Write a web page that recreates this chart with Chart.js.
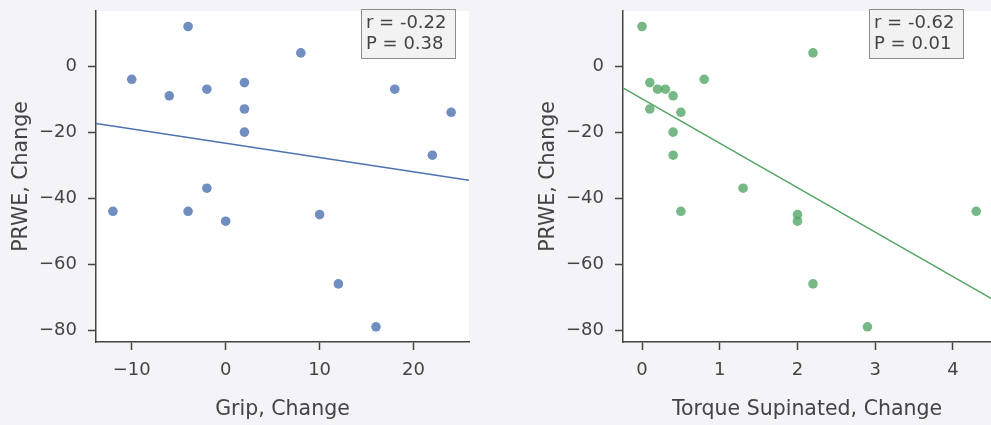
<!DOCTYPE html>
<html>
<head>
<meta charset="utf-8">
<script src="https://cdn.jsdelivr.net/npm/chart.js@4/dist/chart.umd.min.js"></script>
<style>
  html, body { margin: 0; padding: 0; background: #f3f3f8; overflow: hidden; }
  .panel { position: absolute; top: 0; height: 425px; }
  #left-panel  { left: 0;     width: 480px; }
  #right-panel { left: 510px; width: 481px; }
</style>
</head>
<body>
<div class="panel" id="left-panel"><canvas id="grip-chart" width="480" height="425"></canvas></div>
<div class="panel" id="right-panel"><canvas id="torque-chart" width="481" height="425"></canvas></div>
<script>
// PRWE change (y) shared by both panels, one per patient
const gripChange   = [-4, -10, -6, -2, 2, 2, 2, 8, 18, 24, 22, -12, -4, -2, 0, 10, 12, 16];
const gripPrwe     = [12, -4, -9, -7, -5, -13, -20, 4, -7, -14, -27, -44, -44, -37, -47, -45, -66, -79];
const torqueChange = [0, 0.1, 0.1, 0.2, 0.3, 0.4, 0.5, 0.4, 0.4, 0.8, 2.2, 1.3, 0.5, 2.0, 2.0, 2.2, 2.9, 4.3];
const torquePrwe   = [12, -5, -13, -7, -7, -9, -14, -20, -27, -4, 4, -37, -44, -45, -47, -66, -79, -44];

// regression line ends, read at the axis limits
const gripFitX   = [-13.8, 25.9];
const gripFitY   = [-17.4, -34.6];
const torqueFitX = [-0.245, 4.49];
const torqueFitY = [-6.6, -70.4];

const yTicks          = [-80, -60, -40, -20, 0];
const gripTicks       = [-10, 0, 10, 20];
const torqueTicks     = [0, 1, 2, 3, 4];
const gripStats       = ['r = -0.22', 'P = 0.38'];
const torqueStats     = ['r = -0.62', 'P = 0.01'];

const yRange = [-83.6, 16.7];
const ink    = '#444444';
const font   = 'DejaVu Sans';

function fmt(v) {
  return v < 0 ? '\u2212' + Math.abs(v) : String(v);
}

function noPad(s) {
  s.paddingTop = 0;
  s.paddingBottom = 0;
  s.paddingLeft = 0;
  s.paddingRight = 0;
}

const whiteArea = {
  id: 'whiteArea',
  beforeDraw(chart) {
    const {ctx, chartArea: a} = chart;
    ctx.save();
    ctx.fillStyle = '#ffffff';
    ctx.fillRect(a.left, a.top, a.right - a.left, a.bottom - a.top);
    ctx.restore();
  }
};

const statsBox = {
  id: 'statsBox',
  afterDraw(chart, args, opts) {
    const {ctx, chartArea: a} = chart;
    const w = 95, h = 50;
    const x = a.right - opts.gap - w;
    const y = a.top - 2;
    ctx.save();
    ctx.fillStyle = '#f2f2f2';
    ctx.fillRect(x, y, w, h);
    ctx.strokeStyle = '#8c8c8c';
    ctx.lineWidth = 1;
    ctx.strokeRect(x + 0.5, y + 0.5, w - 1, h - 1);
    ctx.fillStyle = ink;
    ctx.font = '18px "' + font + '"';
    ctx.textBaseline = 'middle';
    opts.lines.forEach((t, i) => ctx.fillText(t, x + 5, y + 14 + i * 21));
    ctx.restore();
  }
};

function makeChart(id, cfg) {
  const pts = cfg.xs.map((x, i) => ({ x, y: cfg.ys[i] }));
  const fit = cfg.fitX.map((x, i) => ({ x, y: cfg.fitY[i] }));
  return new Chart(document.getElementById(id), {
    type: 'scatter',
    data: {
      datasets: [
        { type: 'line', data: fit, borderColor: cfg.color, borderWidth: 1.5, pointRadius: 0, fill: false, order: 1 },
        { data: pts, backgroundColor: cfg.fill, borderWidth: 0, pointRadius: 4.8, order: 0 }
      ]
    },
    options: {
      responsive: false,
      animation: false,
      layout: { autoPadding: false, padding: { left: 0, top: 11, right: cfg.padRight, bottom: 0 } },
      plugins: {
        legend: { display: false },
        tooltip: { enabled: false },
        statsBox: { lines: cfg.stats, gap: cfg.boxGap }
      },
      scales: {
        x: {
          type: 'linear',
          min: cfg.fitX[0],
          max: cfg.fitX[1],
          afterBuildTicks: s => { s.ticks = cfg.ticks.map(v => ({ value: v })); },
          afterFit: s => { s.height = 83; noPad(s); },
          border: { display: true, color: ink, width: 1.5 },
          grid: { drawOnChartArea: false, drawTicks: true, tickLength: 8, tickColor: ink, tickWidth: 1.5 },
          ticks: { color: ink, font: { family: font, size: 18 }, padding: 10, callback: fmt },
          title: { display: true, text: cfg.xLabel, color: ink, font: { family: font, size: 20.5 }, padding: { top: 0, bottom: 3 } }
        },
        y: {
          min: yRange[0],
          max: yRange[1],
          afterBuildTicks: s => { s.ticks = yTicks.map(v => ({ value: v })); },
          afterFit: s => { s.width = cfg.yWidth; noPad(s); },
          border: { display: true, color: ink, width: 1.5 },
          grid: { drawOnChartArea: false, drawTicks: true, tickLength: 8, tickColor: ink, tickWidth: 1.5 },
          ticks: { color: ink, font: { family: font, size: 18 }, padding: 11, callback: fmt },
          title: { display: true, text: 'PRWE, Change', color: ink, font: { family: font, size: 20.5 }, padding: { top: cfg.yTitlePad, bottom: 0 } }
        }
      }
    },
    plugins: [whiteArea, statsBox]
  });
}

makeChart('grip-chart', {
  xs: gripChange, ys: gripPrwe, fitX: gripFitX, fitY: gripFitY,
  ticks: gripTicks, stats: gripStats, xLabel: 'Grip, Change',
  color: '#4c72b0', fill: 'rgba(76,114,176,0.8)',
  padRight: 11, yWidth: 96, yTitlePad: 9, boxGap: 13
});

makeChart('torque-chart', {
  xs: torqueChange, ys: torquePrwe, fitX: torqueFitX, fitY: torqueFitY,
  ticks: torqueTicks, stats: torqueStats, xLabel: 'Torque Supinated, Change',
  color: '#55a868', fill: 'rgba(85,168,104,0.8)',
  padRight: 0, yWidth: 113, yTitlePad: 26, boxGap: 27
});
</script>
</body>
</html>
